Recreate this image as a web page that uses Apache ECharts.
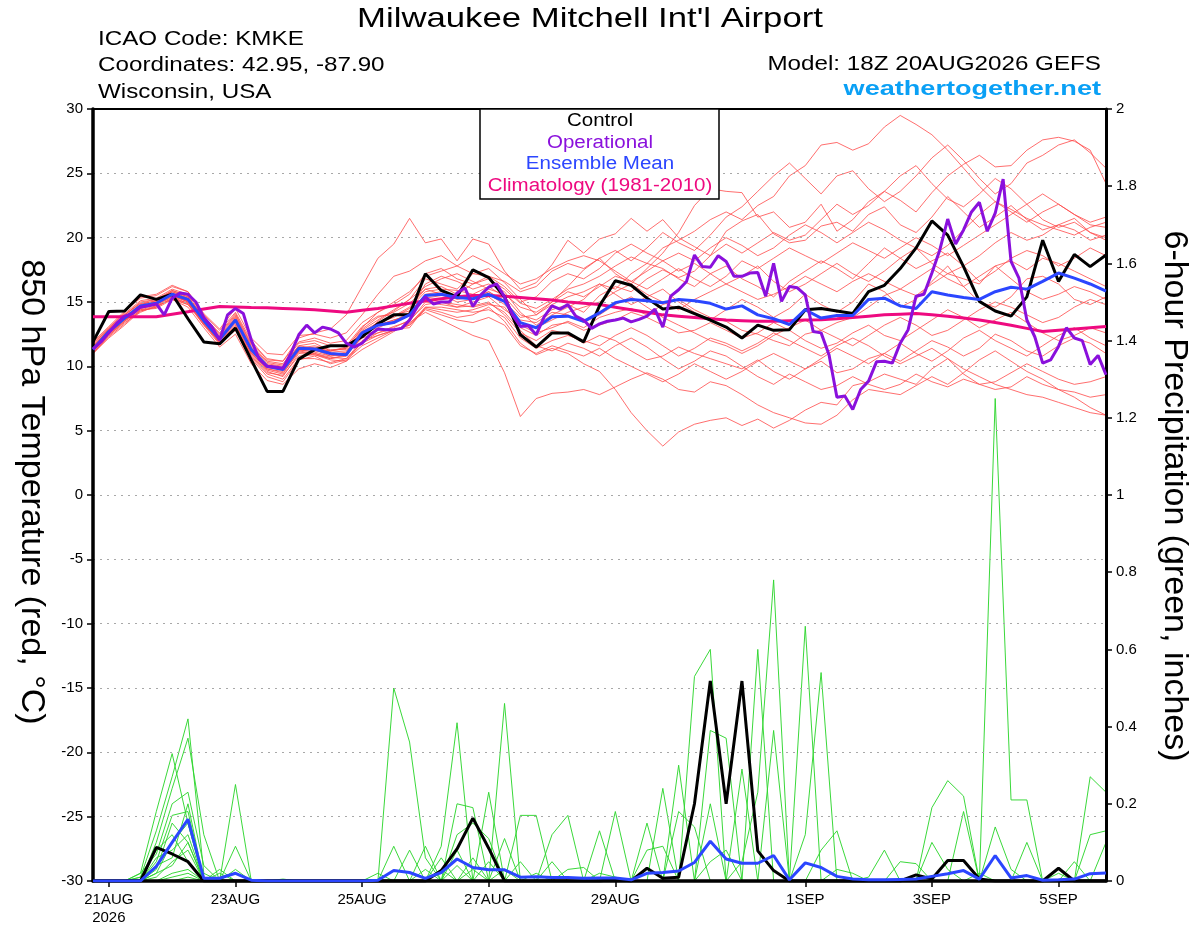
<!DOCTYPE html>
<html><head><meta charset="utf-8">
<script src="https://cdn.jsdelivr.net/npm/echarts@6/dist/echarts.min.js"></script>
<style>html,body{margin:0;padding:0;background:#fff}#c{width:1200px;height:927px}</style>
</head><body><div id="c"></div>
<script>
// x axis: hours since 18Z 20AUG2026, 6-hourly steps (0..384)
const tickHours = [6, 54, 102, 150, 198, 270, 318, 366];
const tickLabels = ['21AUG\n2026', '23AUG', '25AUG', '27AUG', '29AUG', '1SEP', '3SEP', '5SEP'];
const tempTicks = [-30, -25, -20, -15, -10, -5, 0, 5, 10, 15, 20, 25, 30];
const precipTicks = [0, 0.2, 0.4, 0.6, 0.8, 1, 1.2, 1.4, 1.6, 1.8, 2];

// 850 hPa temperature, 6-hourly (65 values)
const controlTemp = [11.9,14.26,14.3,15.55,15.2,15.6,13.7,11.9,11.75,12.97,
 10.5,8.05,8.05,10.56,11.3,11.6,11.6,12.3,13.3,14.0,
 14.0,17.2,15.9,15.4,17.5,16.9,15.4,12.45,11.5,12.6,
 12.6,11.9,14.7,16.65,16.3,15.3,14.45,14.6,14.1,13.6,
 13.05,12.2,13.2,12.8,12.85,14.4,14.5,14.3,14.1,15.8,
 16.3,17.6,19.2,21.3,20.2,17.75,15.05,14.3,13.9,15.4,
 19.8,16.6,18.7,17.75,18.65];
const meanTemp = [11.3,12.7,13.75,14.7,14.9,15.6,15.2,13.55,12.1,13.6,
 11.3,10.0,9.75,11.4,11.35,11.0,10.9,12.6,13.2,13.4,
 14.0,15.5,15.6,15.35,15.25,15.6,15.05,13.4,13.0,13.85,
 13.9,13.5,14.15,14.95,15.2,15.1,14.95,15.2,15.1,14.9,
 14.45,14.7,14.0,13.7,13.25,14.4,13.75,13.95,13.95,15.2,
 15.3,14.7,14.5,15.8,15.55,15.35,15.2,15.8,16.15,16.0,
 16.6,17.25,16.85,16.4,15.85];
const climTemp = [13.85,13.85,13.85,13.85,13.85,14.05,14.25,14.45,14.65,14.62,
 14.58,14.55,14.5,14.45,14.4,14.3,14.2,14.35,14.5,14.7,
 14.9,15.1,15.25,15.4,15.5,15.5,15.45,15.35,15.25,15.15,
 15.0,14.9,14.8,14.6,14.4,14.2,14.0,13.9,13.8,13.7,
 13.6,13.55,13.5,13.5,13.55,13.6,13.62,13.7,13.8,13.9,
 14.0,14.05,14.1,14.0,13.9,13.75,13.6,13.4,13.2,12.95,
 12.7,12.8,12.9,13.0,13.1];
// operational run, 3-hourly (129 values)
const operTemp = [11.35,11.9,12.6,13.35,13.9,14.1,14.6,14.7,14.85,14.0,
 15.3,15.7,15.6,15.0,13.8,13.1,12.05,14.0,14.5,14.1,
 12.05,10.55,10.0,9.95,9.85,11.0,12.45,13.2,12.6,13.05,
 12.9,12.6,11.8,11.5,11.8,12.45,12.9,12.85,12.85,12.95,
 13.6,14.65,15.4,14.85,15.0,15.0,15.7,16.1,14.65,15.55,
 16.15,16.4,15.4,14.0,13.1,13.15,12.45,13.85,14.7,14.45,
 14.8,13.9,13.6,12.95,13.3,13.5,13.6,13.75,13.45,13.65,
 13.9,14.45,13.05,15.45,15.95,16.6,18.65,17.75,17.7,18.6,
 18.15,17.0,17.0,17.25,17.3,15.45,18.0,15.05,16.2,16.1,
 15.55,12.7,12.6,10.9,7.6,7.7,6.65,8.2,8.85,10.35,
 10.4,10.25,11.8,12.85,15.45,15.6,17.25,19.05,21.45,19.5,
 20.6,22.0,22.75,20.5,21.9,24.55,18.15,16.85,13.6,12.3,
 10.25,10.5,11.55,13.0,12.2,12.0,10.15,10.85,9.35];

// ensemble members, 6-hourly temperature
const ens01 = [11.5,12.9,14.0,15.0,15.2,15.8,15.4,13.8,12.4,13.9,11.6, 10.3,10.1,11.6,11.8,11.2,11.5,12.9,13.8,14.2,14.9, 16.0,16.2,15.6,16.4,16.8,16.0,14.9,14.5,15.2,16.0, 16.4,17.0,17.8,18.5,18.0,19.2,19.8,20.5,21.4,22.0, 21.4,22.5,23.2,24.8,25.6,27.2,27.4,26.8,27.3,28.6, 29.5,28.8,28.0,26.8,25.4,24.0,22.8,22.2,21.5,21.0, 20.6,20.2,20.8,21.2];
const ens02 = [11.2,12.5,13.5,14.6,15.0,15.5,15.0,13.2,12.0,13.3,11.0, 9.8,9.6,11.2,11.0,10.6,10.8,12.3,13.5,14.3,15.2, 16.8,16.4,16.0,17.2,17.6,16.5,15.2,14.0,15.0,16.2, 17.5,18.4,17.2,16.4,17.6,18.8,20.4,22.5,23.8,23.6, 23.5,21.6,22.0,20.8,21.2,22.6,20.5,21.4,22.8,23.6, 22.9,22.0,23.5,24.8,25.7,26.4,25.5,25.6,26.8,27.6, 27.8,27.5,26.8,24.2];
const ens03 = [11.8,13.0,14.2,15.4,15.6,16.3,15.8,14.0,12.8,14.2,12.0, 10.5,10.4,12.2,12.6,12.9,14.0,16.2,18.4,19.5,21.5, 19.6,19.9,18.2,19.9,19.5,17.4,16.0,16.5,17.9,19.8, 18.8,19.9,20.3,21.5,20.5,21.4,20.0,19.3,18.6,20.5, 21.3,21.8,20.3,19.6,19.8,20.9,21.2,20.5,21.8,22.4, 21.0,20.4,21.6,23.2,22.0,20.8,21.6,22.5,21.4,20.6, 21.0,21.5,20.4,19.8];
const ens04 = [11.0,12.2,13.2,14.3,14.6,15.3,14.8,13.4,11.8,12.8,10.6, 9.2,8.8,10.5,10.8,10.2,10.5,11.6,12.2,12.8,13.2, 14.5,14.2,13.8,14.0,14.6,13.5,11.8,10.9,11.4,11.0, 10.2,9.6,8.2,6.4,5.0,3.8,4.9,5.5,5.8,6.0, 5.4,5.9,5.2,5.8,6.6,7.2,7.0,8.5,8.8,9.4, 9.0,8.6,9.8,10.6,9.4,8.6,8.8,9.5,10.2,9.6, 9.0,8.6,8.8,9.2];
const ens05 = [11.4,12.6,13.6,14.4,14.7,15.2,14.6,13.0,11.5,12.5,10.2, 8.9,8.6,9.8,10.2,9.9,10.4,11.3,12.0,12.7,13.4, 14.2,13.6,13.0,12.4,12.0,9.5,6.1,7.5,7.9,8.0, 8.2,7.8,8.4,9.0,9.5,9.0,8.2,8.0,8.8,8.5, 7.8,7.0,6.4,6.0,5.6,5.5,6.2,7.4,8.2,8.0, 7.8,8.5,9.2,8.6,9.5,10.5,11.2,10.4,9.6,9.0, 8.2,7.6,6.8,6.2];
const ens06 = [11.6,12.8,14.0,14.9,15.0,15.9,15.5,13.7,12.2,13.5,11.2, 9.9,9.8,11.5,11.2,11.0,10.8,12.7,13.2,13.6,13.9, 15.3,15.5,15.4,15.3,15.8,15.1,13.2,12.6,13.0,13.5, 13.0,13.8,14.2,14.5,14.0,14.8,15.2,14.4,13.8,13.5, 12.8,12.5,12.0,11.6,12.5,12.8,13.4,13.8,14.6,15.5, 16.0,15.5,16.4,17.2,16.8,16.4,17.8,18.2,17.5,18.4, 18.0,17.4,16.8,16.2];
const ens07 = [11.1,12.4,13.4,14.2,14.7,15.4,14.9,13.3,11.9,13.0,10.9, 9.6,9.2,11.0,10.9,10.5,10.4,11.9,12.6,13.1,13.5, 15.0,14.8,14.6,14.7,15.0,14.0,12.6,12.0,12.8,12.5, 11.8,12.4,12.0,11.2,10.5,10.8,11.5,11.0,10.6,10.2, 9.8,10.5,9.6,9.0,9.8,10.4,9.5,9.8,10.6,11.0, 10.4,11.2,12.0,11.5,10.8,11.4,12.5,12.0,11.2,10.8, 11.6,12.2,11.8,11.0];
const ens08 = [11.3,12.7,13.9,14.8,15.1,15.7,15.3,13.6,12.1,13.7,11.4, 10.1,9.9,11.3,11.5,11.1,11.2,12.5,13.4,13.8,14.5, 15.8,16.0,15.9,15.6,16.2,15.4,14.0,13.6,14.4,14.8, 14.2,15.5,16.2,15.8,16.8,17.5,16.9,17.4,18.6,19.5, 18.8,19.6,20.4,19.8,20.2,21.4,22.6,21.8,22.5,23.6, 24.8,25.6,24.2,23.0,22.4,23.4,24.6,23.8,22.6,21.4, 20.8,21.2,20.4,20.0];
const ens09 = [11.7,13.0,14.1,15.1,15.3,16.0,15.6,13.9,12.5,14.0,11.7, 10.4,10.2,11.8,12.0,11.6,11.6,13.1,13.9,14.0,14.3, 16.4,17.0,16.6,16.0,16.4,15.8,14.2,13.2,14.0,14.6, 15.2,16.4,15.6,14.8,15.4,16.0,15.0,14.2,13.6,14.4, 15.2,14.6,13.8,14.5,15.6,14.8,14.2,15.0,16.4,15.8, 14.6,15.2,16.6,17.8,16.2,15.0,14.6,15.4,16.8,17.0, 16.4,15.2,14.8,15.4];
const ens10 = [11.2,12.5,13.6,14.5,14.8,15.4,15.1,13.4,11.9,13.2,11.0, 9.7,9.4,11.2,11.3,10.8,11.0,12.4,12.8,13.0,13.6, 14.8,15.0,14.8,14.6,14.9,14.2,12.8,11.6,11.2,11.8, 11.4,10.8,11.6,12.2,11.5,10.6,9.8,10.4,11.2,10.8, 10.0,9.2,8.6,9.4,8.8,8.2,8.5,9.2,8.6,8.2, 8.6,9.4,8.8,8.4,9.0,8.6,8.2,8.4,9.2,8.6, 8.2,8.0,7.6,7.8];
const ens11 = [11.5,12.8,13.8,14.7,15.0,15.6,15.2,13.5,12.3,13.8,11.5, 10.2,10.0,11.6,11.4,11.2,11.4,13.0,14.2,15.0,15.8, 17.0,17.4,17.8,17.2,17.0,16.2,15.0,15.4,16.6,17.2, 16.8,17.6,18.8,19.5,18.8,18.2,17.4,18.0,17.2,16.4, 17.0,17.8,16.6,15.8,16.4,17.2,18.0,17.2,16.6,17.4, 18.4,19.2,18.0,17.2,17.8,18.6,19.6,20.4,19.8,20.2, 21.0,20.6,19.8,20.2];
const ens12 = [11.0,12.3,13.3,14.4,14.5,15.2,14.8,13.2,11.7,13.1,10.8, 9.5,9.3,10.8,10.9,10.6,10.9,12.2,12.6,12.9,13.0, 14.6,14.4,14.2,14.4,14.8,14.6,13.0,12.4,13.2,13.4, 12.8,13.2,13.6,14.2,13.8,13.2,12.6,12.8,13.4,12.8, 12.2,12.6,13.4,12.8,12.0,11.4,11.8,12.6,13.2,12.4, 12.0,12.8,13.6,14.4,13.8,13.0,13.6,14.2,13.4,12.6, 12.0,12.4,13.0,12.6];
const ens13 = [11.4,12.7,13.8,14.6,14.9,15.5,15.1,13.6,12.0,13.5,11.3, 10.0,9.7,11.4,11.6,11.3,11.3,12.8,13.6,14.4,15.2, 16.2,16.8,17.2,16.6,16.0,15.6,14.6,14.2,15.0,15.8, 15.4,16.2,17.0,16.6,16.0,16.8,17.6,16.8,16.2,17.0, 18.2,17.6,18.4,19.2,18.6,18.0,18.8,19.6,19.0,18.4, 19.2,20.0,19.4,18.6,19.4,20.2,21.0,21.8,22.6,23.4, 22.6,21.8,21.2,21.6];
const ens14 = [11.3,12.6,13.7,14.5,14.8,15.6,15.0,13.5,12.0,13.4,11.1, 9.8,9.5,11.1,11.0,10.7,10.6,12.0,12.4,12.8,13.2, 14.4,14.0,13.6,13.4,13.8,13.2,11.6,11.0,11.6,11.2, 10.8,11.4,10.6,10.0,9.4,8.8,9.4,10.2,9.6,9.0, 9.6,10.4,11.0,10.4,9.8,10.6,11.4,10.8,10.2,11.0, 11.8,11.0,10.4,11.2,12.2,12.8,12.0,11.4,10.8,11.6, 12.4,13.0,12.2,11.6];
const ens15 = [11.6,12.9,14.0,14.9,15.2,15.9,15.4,13.8,12.6,14.1,11.8, 10.6,10.4,11.9,12.2,11.8,12.0,13.4,14.2,14.8,15.6, 17.2,17.6,16.8,16.4,17.0,16.6,15.8,16.2,17.4,18.0, 17.6,18.4,19.0,18.2,19.2,20.4,19.6,19.0,20.2,21.6, 22.4,23.6,24.8,25.8,24.6,23.4,24.8,25.2,23.8,22.8, 23.6,24.8,26.2,27.2,26.0,24.6,23.4,24.2,25.8,26.4, 27.2,27.6,26.6,25.4];
const ens16 = [11.2,12.6,13.7,14.8,15.1,15.8,15.3,13.7,12.2,13.6,11.3, 10.0,9.8,11.4,11.3,10.9,11.1,12.6,13.0,13.5,14.2, 15.6,15.8,15.2,15.4,15.6,14.8,13.4,13.0,13.6,14.2, 14.6,15.0,15.8,16.4,15.6,15.0,14.4,15.2,15.8,16.4, 15.8,15.2,15.6,16.2,17.0,16.4,15.8,16.6,17.2,16.6, 16.0,16.8,17.6,16.8,16.2,17.0,17.8,16.8,15.8,15.2, 15.6,16.2,15.8,15.2];
const ens17 = [11.0,12.4,13.5,14.3,14.6,15.3,14.9,13.3,11.8,13.0,10.7, 9.4,9.0,10.6,10.6,10.3,10.6,11.8,12.4,12.8,13.3, 14.6,14.6,14.4,14.2,14.4,13.8,12.2,11.4,12.0,12.4, 12.0,11.6,12.4,13.0,12.4,11.6,10.8,11.4,12.2,11.8, 11.2,11.8,12.6,12.0,11.4,10.8,11.6,12.2,11.6,10.8, 10.2,10.8,11.4,10.6,9.8,9.2,8.6,8.2,7.8,7.6, 7.2,6.8,6.4,6.2];
const ens18 = [11.9,13.1,14.3,15.3,15.5,16.2,15.8,14.1,12.9,14.5,12.2, 11.0,10.9,12.4,12.5,12.2,12.6,14.0,15.6,17.0,17.4, 18.2,18.6,17.8,18.6,18.0,17.2,16.4,16.8,17.6,18.2, 18.6,18.2,17.4,16.6,17.4,18.2,18.8,18.2,19.2,20.0, 19.4,18.6,19.2,20.2,21.0,20.4,19.6,20.4,21.2,20.6, 19.8,19.2,18.6,19.4,20.6,21.8,22.8,22.0,21.2,22.0, 22.6,21.8,21.0,20.8];
const ens19 = [11.4,12.7,13.7,14.6,14.9,15.6,15.0,13.4,12.1,13.5,11.2, 9.9,9.7,11.3,11.1,10.8,10.9,12.4,13.2,13.6,14.0, 15.2,15.0,14.6,15.0,15.4,14.4,13.6,13.4,14.2,14.0, 13.4,14.0,14.8,15.4,14.6,13.8,13.2,12.6,12.0,11.6, 11.0,11.6,12.4,13.0,13.6,12.8,12.2,11.6,12.4,13.2, 13.8,13.2,12.4,12.8,13.6,14.4,15.0,14.6,14.0,13.4, 13.8,14.6,15.2,14.8];
const ens20 = [11.3,12.5,13.6,14.6,14.8,15.5,15.2,13.6,12.2,13.7,11.3, 10.1,9.9,11.5,11.4,11.2,11.4,12.7,13.4,13.9,14.6, 16.0,15.6,15.0,15.2,15.8,15.0,13.8,14.0,14.8,15.4, 15.8,16.4,16.0,17.2,18.0,17.6,16.8,16.2,17.2,17.8, 16.8,16.2,15.4,16.6,17.4,18.2,17.6,16.8,18.0,19.2, 18.4,17.6,18.2,18.8,17.8,16.6,17.4,18.4,19.0,18.6, 17.8,18.4,19.2,18.6];

// 6-hour precipitation (inches), 6-hourly
const controlPcp = [0,0,0,0,0.087, 0.07,0.05,0,0,0, 0,0,0,0,0, 0,0,0,0,0, 0,0,0.027,0.083,0.163, 0.085,0,0,0,0, 0,0,0,0.005,0, 0.033,0.007,0.01,0.2,0.518, 0.2,0.518,0.078,0.027,0, 0,0,0,0,0, 0,0,0.016,0.005,0.053, 0.053,0.005,0,0,0, 0,0.033,0,0,0];
const meanPcp = [0,0,0,0,0.038, 0.1,0.16,0.007,0.007,0.02, 0.002,0,0,0,0, 0,0,0,0.002,0.027, 0.022,0.007,0.022,0.057,0.035, 0.029,0.029,0.01,0.011,0.009, 0.009,0.007,0.008,0.008,0.003, 0.02,0.022,0.026,0.048,0.103, 0.057,0.046,0.046,0.066,0.003, 0.047,0.035,0.012,0.005,0.003, 0.003,0.004,0.005,0.012,0.019, 0.027,0.005,0.066,0.008,0.014, 0.002,0.003,0.005,0.019,0.021];
const pcp01 = [0,0,0,0.02,0.18, 0.33,0.15,0,0,0, 0,0,0,0,0, 0,0,0,0,0, 0,0,0.03,0,0, 0,0,0,0,0, 0,0,0.02,0.01,0, 0,0,0,0,0, 0,0,0,0,0, 0,0,0,0,0, 0,0,0,0,0, 0.18,0,0,0,0, 0,0,0,0,0];
const pcp02 = [0,0,0,0.01,0.13, 0.27,0.42,0.02,0,0, 0,0,0,0,0, 0,0,0,0,0, 0,0,0,0.2,0.19, 0,0,0,0,0, 0,0,0,0,0, 0.15,0,0,0,0, 0,0,0,0,0, 0,0,0,0,0, 0,0,0,0,0, 0,0.02,0,0,0, 0,0,0,0,0];
const pcp03 = [0,0,0,0,0.1, 0.24,0.37,0.12,0,0, 0,0,0,0,0, 0,0,0,0,0, 0,0,0,0.12,0.15, 0.11,0,0,0,0, 0,0,0,0,0, 0.08,0.09,0,0,0, 0,0,0,0,0, 0,0,0,0,0, 0,0,0,0,0, 0,0,0,0,0, 0,0,0,0,0];
const pcp04 = [0,0,0,0.02,0.07, 0.2,0.23,0.04,0,0, 0,0,0,0,0, 0,0,0,0,0, 0,0,0,0.08,0, 0,0.11,0,0,0, 0,0,0,0,0, 0,0.24,0,0,0, 0,0,0,0,0, 0,0,0,0,0, 0,0,0,0,0, 0,0,1.25,0.21,0.21, 0,0,0,0,0];
const pcp05 = [0,0,0,0,0.05, 0.17,0.18,0,0.02,0, 0,0,0,0,0, 0,0,0,0,0, 0,0,0,0.04,0, 0,0,0.05,0,0, 0,0,0,0,0, 0,0,0.3,0,0, 0,0,0,0,0, 0,0,0,0,0, 0,0,0,0,0, 0,0,0.14,0.03,0, 0,0,0,0,0];
const pcp06 = [0,0,0,0,0.03, 0.15,0.1,0,0,0.25, 0,0,0,0,0, 0,0,0,0,0, 0,0,0,0,0.06, 0,0,0,0.02,0, 0,0,0,0,0, 0,0,0.18,0.14,0, 0,0,0,0,0, 0,0,0,0,0, 0,0,0,0,0, 0,0,0,0,0.1, 0,0,0,0,0];
const pcp07 = [0,0,0,0,0.02, 0.1,0.15,0,0,0.09, 0,0,0,0,0, 0,0,0,0,0, 0,0,0,0,0.03, 0,0,0,0,0.05, 0,0,0,0,0, 0,0,0,0.53,0.6, 0,0,0,0,0, 0,0,0,0,0, 0,0,0,0,0, 0,0,0,0,0, 0,0.02,0,0,0];
const pcp08 = [0,0,0,0.01,0.08, 0.12,0.05,0,0,0.03, 0,0,0,0,0, 0,0,0,0,0, 0,0,0,0,0, 0.05,0,0,0,0, 0,0,0,0,0, 0,0,0,0,0.39, 0.37,0,0,0,0, 0,0,0,0,0, 0,0,0,0,0, 0,0,0,0,0, 0,0,0.05,0,0];
const pcp09 = [0,0,0,0,0.04, 0.06,0.2,0,0.03,0, 0,0,0,0,0, 0,0,0,0,0, 0,0,0,0,0, 0,0.03,0,0,0, 0,0,0,0,0, 0,0,0,0,0.2, 0,0.29,0,0,0, 0,0,0,0,0, 0,0,0,0,0, 0,0,0,0,0, 0,0,0,0.27,0.23];
const pcp10 = [0,0,0,0,0.06, 0.08,0.12,0,0,0, 0,0,0.005,0,0, 0,0,0,0,0, 0,0,0,0,0, 0,0,0,0,0, 0,0,0,0,0, 0,0,0,0,0.05, 0.08,0,0.6,0,0, 0,0,0,0,0, 0,0,0,0,0, 0,0,0,0,0, 0,0,0,0.12,0.13];
const pcp11 = [0,0,0,0,0.01, 0.05,0.08,0,0,0, 0,0,0,0,0, 0,0,0,0,0.5, 0.36,0.06,0,0,0, 0,0,0,0,0, 0,0,0,0,0, 0,0,0,0,0, 0,0.05,0.23,0.78,0, 0,0,0,0,0, 0,0,0,0,0, 0,0,0,0,0, 0,0,0,0,0.1];
const pcp12 = [0,0,0,0,0.02, 0.04,0.1,0,0,0, 0,0,0,0,0, 0,0,0,0.02,0, 0,0,0.09,0.41,0, 0,0,0,0,0, 0,0,0,0,0, 0,0,0,0,0, 0,0,0,0.39,0, 0,0,0,0,0, 0,0,0,0,0, 0,0,0,0,0, 0,0,0,0,0];
const pcp13 = [0,0,0,0,0, 0.02,0.03,0,0,0, 0,0,0,0,0, 0,0,0,0,0.09, 0,0.09,0,0,0, 0.23,0,0,0,0, 0,0,0,0,0, 0,0,0,0,0, 0,0,0,0,0, 0.66,0,0,0,0, 0,0,0,0,0, 0,0,0,0,0, 0,0,0,0,0];
const pcp14 = [0,0,0,0,0, 0.01,0.02,0,0,0, 0,0,0,0,0, 0,0,0,0,0, 0.08,0,0,0,0, 0,0.46,0,0,0, 0,0,0,0,0, 0,0,0,0,0, 0,0,0,0,0, 0.12,0.54,0,0,0, 0,0,0,0,0, 0,0,0,0,0, 0,0,0,0,0];
const pcp15 = [0,0,0,0,0, 0,0.01,0,0,0, 0,0,0,0,0, 0,0,0,0,0, 0,0.03,0,0,0, 0,0,0.17,0.17,0, 0,0,0,0,0, 0,0,0,0,0, 0,0,0,0,0, 0,0.08,0.13,0,0, 0,0,0,0,0, 0,0,0,0,0, 0,0,0,0,0];
const pcp16 = [0,0,0,0,0, 0,0,0,0,0, 0,0,0,0,0, 0,0,0,0,0, 0,0,0.06,0,0, 0,0,0,0,0.12, 0.17,0,0,0,0, 0,0,0,0,0, 0,0,0,0,0, 0,0,0.03,0.02,0, 0,0,0,0,0, 0,0,0,0,0, 0,0,0,0,0];
const pcp17 = [0,0,0,0,0, 0,0,0,0,0, 0,0,0,0,0, 0,0,0,0,0, 0,0,0,0,0, 0,0,0,0,0, 0.03,0.035,0,0,0, 0,0,0,0,0, 0,0,0,0,0, 0,0,0,0,0.01, 0.08,0,0,0,0, 0,0,0,0,0, 0,0,0,0,0];
const pcp18 = [0,0,0,0,0, 0,0,0,0,0, 0,0,0,0,0, 0,0,0,0,0, 0,0,0,0,0, 0,0,0,0,0, 0,0,0.13,0,0, 0,0,0,0,0, 0,0,0,0,0, 0,0,0,0,0, 0,0.05,0.045,0,0, 0,0,0,0,0, 0,0,0,0,0];
const pcp19 = [0,0,0,0,0, 0,0,0,0,0, 0,0,0,0,0, 0,0,0,0,0, 0,0,0,0,0, 0,0,0,0,0, 0,0,0,0.18,0, 0,0,0,0,0, 0,0,0,0,0, 0,0,0,0,0, 0,0,0,0.19,0.26, 0.22,0,0,0,0, 0,0,0,0,0];
const pcp20 = [0,0,0,0,0, 0,0,0,0,0, 0,0,0,0,0, 0,0,0,0,0, 0,0,0,0,0, 0,0,0,0,0, 0,0,0,0,0, 0,0,0,0,0, 0,0,0,0,0, 0,0,0,0,0, 0,0,0,0.1,0.03, 0,0,0,0,0, 0,0,0,0,0];

const ensTemps = [ens01,ens02,ens03,ens04,ens05,ens06,ens07,ens08,ens09,ens10,ens11,ens12,ens13,ens14,ens15,ens16,ens17,ens18,ens19,ens20];
const ensPcps = [pcp01,pcp02,pcp03,pcp04,pcp05,pcp06,pcp07,pcp08,pcp09,pcp10,pcp11,pcp12,pcp13,pcp14,pcp15,pcp16,pcp17,pcp18,pcp19,pcp20];

const FONT = "'Liberation Sans', Arial, Helvetica, sans-serif";
const C_OPER = '#8a10dc', C_MEAN = '#2b46ff', C_CLIM = '#ee0a80', C_RED = '#ff4a4a', C_GREEN = '#2fd62f';

const at6 = arr => arr.map((v, i) => [i * 6, v]);
const at3 = arr => arr.map((v, k) => [k * 3, v]);
const labelFor = v => { const i = tickHours.indexOf(v); return i >= 0 ? tickLabels[i] : ''; };

const series = [];
ensTemps.forEach((a, n) => series.push({
  name: 'ens' + n, type: 'line', yAxisIndex: 0, data: at6(a), symbol: 'none', silent: true, z: 2,
  lineStyle: { color: C_RED, width: 1, opacity: 0.8 }
}));
ensPcps.forEach((a, n) => series.push({
  name: 'pcp' + n, type: 'line', yAxisIndex: 1, data: at6(a), symbol: 'none', silent: true, z: 2,
  lineStyle: { color: C_GREEN, width: 1, opacity: 0.95 }
}));
series.push({ name: 'Climatology', type: 'line', yAxisIndex: 0, data: at6(climTemp), symbol: 'none', z: 4, lineStyle: { color: C_CLIM, width: 3 } });
series.push({ name: 'Control', type: 'line', yAxisIndex: 0, data: at6(controlTemp), symbol: 'none', z: 5, lineStyle: { color: '#000', width: 3 } });
series.push({ name: 'ControlPcp', type: 'line', yAxisIndex: 1, data: at6(controlPcp), symbol: 'none', z: 5, lineStyle: { color: '#000', width: 3 } });
series.push({ name: 'Mean', type: 'line', yAxisIndex: 0, data: at6(meanTemp), symbol: 'none', z: 6, lineStyle: { color: C_MEAN, width: 3 } });
series.push({ name: 'MeanPcp', type: 'line', yAxisIndex: 1, data: at6(meanPcp), symbol: 'none', z: 6, lineStyle: { color: C_MEAN, width: 3 } });
series.push({ name: 'Operational', type: 'line', yAxisIndex: 0, data: at3(operTemp), symbol: 'none', z: 7, lineStyle: { color: C_OPER, width: 3 } });

function txt(x, y, text, font, fill, align, sx, extra) {
  return Object.assign({ type: 'text', x: x, y: y, scaleX: sx || 1, z: 101,
    style: { text: text, font: font, fill: fill, textAlign: align, textVerticalAlign: 'middle' } }, extra || {});
}

const chart = echarts.init(document.getElementById('c'), null, { renderer: 'canvas' });
chart.setOption({
  animation: false,
  backgroundColor: '#fff',
  textStyle: { fontFamily: FONT },
  grid: { left: 93, right: 94, top: 109, bottom: 45, show: true, borderColor: '#000', borderWidth: 2, backgroundColor: 'transparent' },
  xAxis: {
    type: 'value', min: 0, max: 384, z: 3,
    axisLine: { show: true, onZero: false, lineStyle: { color: '#000', width: 3.5 } },
    axisTick: { show: true, customValues: tickHours, length: 6, lineStyle: { color: '#000', width: 1.5 } },
    axisLabel: { customValues: tickHours, formatter: labelFor, color: '#000', fontSize: 15, margin: 10, lineHeight: 18, fontFamily: FONT },
    splitLine: { show: false }
  },
  yAxis: [{
    type: 'value', min: -30, max: 30, interval: 5, position: 'left', z: 3,
    axisLine: { show: true, onZero: false, lineStyle: { color: '#000', width: 3.5 } },
    axisTick: { show: true, length: 6, lineStyle: { color: '#000', width: 1.5 } },
    axisLabel: { customValues: tempTicks, color: '#000', fontSize: 15, margin: 10, fontFamily: FONT },
    splitLine: { show: true, showMinLine: false, showMaxLine: false, lineStyle: { color: '#a8a8a8', width: 1, type: [2, 5] } }
  }, {
    type: 'value', min: 0, max: 2, interval: 0.2, position: 'right', z: 3,
    axisLine: { show: true, onZero: false, lineStyle: { color: '#000', width: 3 } },
    axisTick: { show: true, length: 6, lineStyle: { color: '#000', width: 1.5 } },
    axisLabel: { customValues: precipTicks, color: '#000', fontSize: 15, margin: 10, fontFamily: FONT,
      formatter: v => String(Math.round(v * 10) / 10) },
    splitLine: { show: false }
  }],
  graphic: [
    txt(590, 19.5, "Milwaukee Mitchell Int'l Airport", '28px ' + FONT, '#000', 'center', 1.24),
    txt(98, 39, 'ICAO Code: KMKE', '20px ' + FONT, '#000', 'left', 1.21),
    txt(98, 65.5, 'Coordinates: 42.95, -87.90', '20px ' + FONT, '#000', 'left', 1.21),
    txt(98, 92.5, 'Wisconsin, USA', '20px ' + FONT, '#000', 'left', 1.21),
    txt(1101, 64.5, 'Model: 18Z 20AUG2026 GEFS', '20px ' + FONT, '#000', 'right', 1.21),
    txt(1101, 89.5, 'weathertogether.net', 'bold 21px ' + FONT, '#0aa0f5', 'right', 1.29),
    { type: 'line', z: 99, shape: { x1: 92, y1: 109, x2: 1107, y2: 109 }, style: { stroke: '#000', lineWidth: 2 } },
    { type: 'rect', z: 100, shape: { x: 480, y: 109, width: 239, height: 90 }, style: { fill: '#fff', stroke: '#000', lineWidth: 1.5 } },
    txt(600, 121.5, 'Control', '18px ' + FONT, '#000', 'center', 1.14),
    txt(600, 143, 'Operational', '18px ' + FONT, C_OPER, 'center', 1.14),
    txt(600, 164.5, 'Ensemble Mean', '18px ' + FONT, C_MEAN, 'center', 1.14),
    txt(600, 186, 'Climatology (1981-2010)', '18px ' + FONT, C_CLIM, 'center', 1.14),
    txt(31, 492, '850 hPa Temperature (red, °C)', '34px ' + FONT, '#000', 'center', 1, { rotation: -Math.PI / 2 }),
    txt(1174, 496, '6-hour Precipitation (green, inches)', '34px ' + FONT, '#000', 'center', 1, { rotation: -Math.PI / 2 })
  ],
  series: series
});
</script>
</body></html>
